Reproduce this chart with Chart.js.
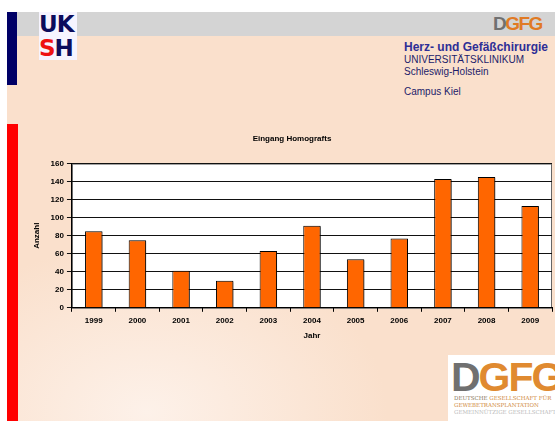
<!DOCTYPE html>
<html>
<head>
<meta charset="utf-8">
<script src="https://cdn.jsdelivr.net/npm/chart.js@4.4.0/dist/chart.umd.min.js"></script>
<style>
  html, body { margin: 0; padding: 0; }
  body {
    width: 555px; height: 421px; position: relative; overflow: hidden;
    background: #fff; font-family: 'Liberation Sans', Arial, sans-serif;
  }
  .slide {
    position: absolute; left: 7px; top: 12px; right: 0; bottom: 0;
    background: radial-gradient(ellipse 240px 170px at 140px 400px, #fdf1e9 0%, #fae0cc 100%);
  }
  .band { position: absolute; left: 17px; top: 12px; right: 0; height: 24px; background: #d4d4d4; }
  .navy { position: absolute; left: 7px; top: 12px; width: 10px; height: 73px; background: #000066; }
  .red { position: absolute; left: 7px; top: 124px; width: 11px; bottom: 0; background: #ff0000; }
  .uksh {
    position: absolute; left: 39px; top: 12px; width: 38px; height: 48px; background: #f6f4ff;
    font-family: 'DejaVu Sans', sans-serif; font-weight: bold; font-size: 23px; line-height: 24px;
    letter-spacing: -1px; color: #0c0c5c;
  }
  .uksh .s { color: #ee1111; }
  .dgfg-top {
    position: absolute; left: 493px; top: 13px; font-weight: bold; font-size: 19px;
    letter-spacing: -1.5px; color: #e07a24;
  }
  .gray { color: #707070; }
  .info { position: absolute; left: 404px; top: 40px; color: #1c1c6a; font-size: 10px; line-height: 12px; }
  .info .h { font-weight: bold; font-size: 12px; color: #2e2e96; line-height: 14px; }
  .logo {
    position: absolute; left: 448px; top: 355px; width: 107px; height: 66px; background: #fff;
  }
  .logo .big {
    position: absolute; left: 3px; top: -1px; font-weight: bold; font-size: 41px; letter-spacing: -2px; color: #e08a30;
  }
  .logo .small {
    position: absolute; left: 6px; top: 40px; font-family: 'DejaVu Serif', serif; font-size: 5.5px;
    line-height: 7px; color: #8a7a60; white-space: nowrap;
  }
  .chartbox { position: absolute; left: 32px; top: 128px; width: 523px; height: 213px; }
</style>
</head>
<body>
<div class="slide"></div>
<div class="band"></div>
<div class="navy"></div>
<div class="red"></div>
<div class="uksh"><div>UK</div><div><span class="s">S</span>H</div></div>
<div class="dgfg-top"><span class="gray">D</span>GFG</div>
<div class="info">
  <div class="h">Herz- und Gefäßchirurgie</div>
  <div>UNIVERSITÄTSKLINIKUM</div>
  <div>Schleswig-Holstein</div>
  <div style="margin-top:8px">Campus Kiel</div>
</div>
<div class="logo">
  <div class="big"><span class="gray">D</span>GFG</div>
  <div class="small">DEUTSCHE <span style="color:#d08a40">GESELLSCHAFT FÜR</span><br><span style="color:#d08a40">GEWEBETRANSPLANTATION</span><br><span style="color:#bbb">GEMEINNÜTZIGE GESELLSCHAFT MBH</span></div>
</div>
<div class="chartbox"><canvas id="homografts"></canvas></div>

<script>
// Eingang Homografts pro Jahr
const years = ['1999', '2000', '2001', '2002', '2003', '2004', '2005', '2006', '2007', '2008', '2009'];
const anzahl = [85, 75, 41, 30, 63, 91, 54, 77, 143, 145, 113];
const yTicks = [0, 20, 40, 60, 80, 100, 120, 140, 160];

const fontBold = { family: "'Liberation Sans', Arial, sans-serif", size: 8, weight: 'bold' };

// white plot area with frame
const plotBackground = {
  id: 'plotBackground',
  beforeDraw(chart) {
    const { ctx, chartArea: a } = chart;
    ctx.save();
    ctx.fillStyle = '#ffffff';
    ctx.fillRect(a.left, a.top, a.width, a.height);
    ctx.strokeStyle = '#666';
    ctx.lineWidth = 1;
    ctx.strokeRect(a.left + 0.5, a.top + 0.5, a.width - 1, a.height);
    ctx.restore();
  }
};

// grey drop shadow under the bars
const barShadow = {
  id: 'barShadow',
  beforeDatasetsDraw(chart) {
    const ctx = chart.ctx;
    ctx.save();
    ctx.shadowColor = 'rgba(0,0,0,0.45)';
    ctx.shadowOffsetX = 2;
    ctx.shadowOffsetY = 1;
    ctx.shadowBlur = 1;
  },
  afterDatasetsDraw(chart) {
    chart.ctx.restore();
  }
};

const ctx = document.getElementById('homografts').getContext('2d');
new Chart(ctx, {
  type: 'bar',
  data: {
    labels: years,
    datasets: [{
      label: 'Anzahl',
      data: anzahl,
      backgroundColor: '#ff6600',
      borderColor: '#000000',
      borderWidth: 1,
      barPercentage: 0.4,
      categoryPercentage: 1
    }]
  },
  plugins: [plotBackground, barShadow],
  options: {
    responsive: true,
    maintainAspectRatio: false,
    animation: false,
    layout: { padding: { left: 0, right: 3, top: 0, bottom: 0 } },
    plugins: {
      legend: { display: false },
      tooltip: { enabled: false },
      title: {
        display: true,
        text: 'Eingang Homografts',
        color: '#000',
        font: fontBold,
        padding: { top: 6, bottom: 20 }
      }
    },
    scales: {
      x: {
        offset: true,
        grid: { offset: true, drawOnChartArea: false, color: '#000', tickLength: 4, lineWidth: 1 },
        border: { display: true, color: '#000' },
        ticks: { color: '#000', font: fontBold, padding: 4, maxRotation: 0 },
        title: { display: true, text: 'Jahr', color: '#000', font: fontBold, padding: { top: 2, bottom: 0 } }
      },
      y: {
        min: 0,
        max: 160,
        afterBuildTicks(axis) { axis.ticks = yTicks.map(v => ({ value: v })); },
        grid: { color: '#111', tickLength: 5, lineWidth: 1 },
        border: { display: true, color: '#000' },
        ticks: { color: '#000', font: fontBold, padding: 3 },
        title: { display: true, text: 'Anzahl', color: '#000', font: fontBold, padding: { top: 0, bottom: 6 } }
      }
    }
  }
});
</script>
</body>
</html>
